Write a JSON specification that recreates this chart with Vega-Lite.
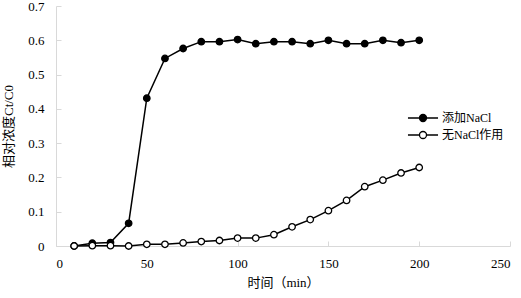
{
  "$schema": "https://vega.github.io/schema/vega-lite/v6.json",
  "width": 454,
  "height": 240,
  "autosize": {"type": "none"},
  "padding": {"left": 56, "top": 6, "right": 11, "bottom": 52},
  "background": "white",
  "config": {
    "view": {"stroke": null},
    "font": "Liberation Serif, Noto Sans CJK SC",
    "axis": {
      "grid": false,
      "domainColor": "#d9d9d9",
      "tickColor": "#d9d9d9",
      "labelFont": "Liberation Serif, Noto Sans CJK SC",
      "labelFontSize": 13,
      "labelColor": "#000000",
      "titleFont": "Liberation Serif, Noto Sans CJK SC",
      "titleFontSize": 13,
      "titleFontWeight": "normal",
      "titleColor": "#000000"
    }
  },
  "data": {
    "values": [
      {"t": 10, "v": 0.000, "s": "添加NaCl"},
      {"t": 20, "v": 0.008, "s": "添加NaCl"},
      {"t": 30, "v": 0.010, "s": "添加NaCl"},
      {"t": 40, "v": 0.066, "s": "添加NaCl"},
      {"t": 50, "v": 0.431, "s": "添加NaCl"},
      {"t": 60, "v": 0.547, "s": "添加NaCl"},
      {"t": 70, "v": 0.576, "s": "添加NaCl"},
      {"t": 80, "v": 0.596, "s": "添加NaCl"},
      {"t": 90, "v": 0.596, "s": "添加NaCl"},
      {"t": 100, "v": 0.602, "s": "添加NaCl"},
      {"t": 110, "v": 0.590, "s": "添加NaCl"},
      {"t": 120, "v": 0.596, "s": "添加NaCl"},
      {"t": 130, "v": 0.596, "s": "添加NaCl"},
      {"t": 140, "v": 0.590, "s": "添加NaCl"},
      {"t": 150, "v": 0.600, "s": "添加NaCl"},
      {"t": 160, "v": 0.590, "s": "添加NaCl"},
      {"t": 170, "v": 0.590, "s": "添加NaCl"},
      {"t": 180, "v": 0.600, "s": "添加NaCl"},
      {"t": 190, "v": 0.593, "s": "添加NaCl"},
      {"t": 200, "v": 0.600, "s": "添加NaCl"},
      {"t": 10, "v": 0.000, "s": "无NaCl作用"},
      {"t": 20, "v": 0.001, "s": "无NaCl作用"},
      {"t": 30, "v": 0.001, "s": "无NaCl作用"},
      {"t": 40, "v": 0.000, "s": "无NaCl作用"},
      {"t": 50, "v": 0.005, "s": "无NaCl作用"},
      {"t": 60, "v": 0.005, "s": "无NaCl作用"},
      {"t": 70, "v": 0.009, "s": "无NaCl作用"},
      {"t": 80, "v": 0.013, "s": "无NaCl作用"},
      {"t": 90, "v": 0.016, "s": "无NaCl作用"},
      {"t": 100, "v": 0.023, "s": "无NaCl作用"},
      {"t": 110, "v": 0.023, "s": "无NaCl作用"},
      {"t": 120, "v": 0.033, "s": "无NaCl作用"},
      {"t": 130, "v": 0.056, "s": "无NaCl作用"},
      {"t": 140, "v": 0.077, "s": "无NaCl作用"},
      {"t": 150, "v": 0.103, "s": "无NaCl作用"},
      {"t": 160, "v": 0.133, "s": "无NaCl作用"},
      {"t": 170, "v": 0.173, "s": "无NaCl作用"},
      {"t": 180, "v": 0.192, "s": "无NaCl作用"},
      {"t": 190, "v": 0.213, "s": "无NaCl作用"},
      {"t": 200, "v": 0.229, "s": "无NaCl作用"}
    ]
  },
  "encoding": {
    "x": {
      "field": "t",
      "type": "quantitative",
      "scale": {"domain": [0, 250], "nice": false},
      "axis": {
        "title": "时间（min）",
        "values": [0, 50, 100, 150, 200, 250],
        "tickSize": -5,
        "labelPadding": 16,
        "titlePadding": 6
      }
    },
    "y": {
      "field": "v",
      "type": "quantitative",
      "scale": {"domain": [0, 0.7], "nice": false},
      "axis": {
        "title": "相对浓度Ct/C0",
        "values": [0, 0.1, 0.2, 0.3, 0.4, 0.5, 0.6, 0.7],
        "format": ".1~f",
        "tickSize": -5,
        "labelPadding": 17,
        "titlePadding": 12
      }
    }
  },
  "layer": [
    {
      "mark": {"type": "line", "color": "#000000", "strokeWidth": 1.5},
      "encoding": {"detail": {"field": "s", "type": "nominal"}}
    },
    {
      "mark": {"type": "point", "shape": "circle", "filled": true, "stroke": "#000000", "strokeWidth": 1.3, "size": 42, "opacity": 1},
      "encoding": {
        "fill": {
          "field": "s",
          "type": "nominal",
          "scale": {"domain": ["添加NaCl", "无NaCl作用"], "range": ["#000000", "#ffffff"]},
          "legend": {
            "title": null,
            "orient": "none",
            "legendX": 357,
            "legendY": 102,
            "symbolType": "M-1.67,0H-0.39A0.39,0.39 0 1 1 0.39,0H1.67M0.39,0A0.39,0.39 0 1 1 -0.39,0",
            "symbolSize": 324,
            "symbolStrokeColor": "#000000",
            "symbolStrokeWidth": 1.3,
            "labelFont": "Liberation Serif, Noto Sans CJK SC",
            "labelFontSize": 12,
            "labelColor": "#000000",
            "rowPadding": 0,
            "labelOffset": 9
          }
        }
      }
    }
  ]
}
